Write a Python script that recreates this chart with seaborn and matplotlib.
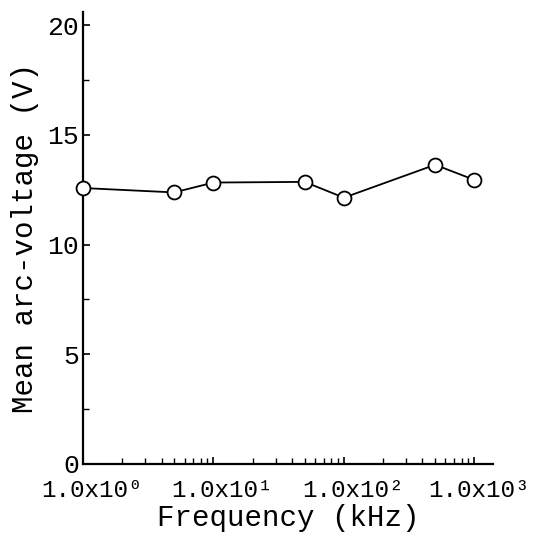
import matplotlib
matplotlib.use("Agg")
import matplotlib.pyplot as plt
import matplotlib.ticker as mticker
from matplotlib.transforms import ScaledTranslation
import seaborn as sns
import pandas as pd

freq_khz = [1.0, 5.0, 10.0, 50.0, 100.0, 500.0, 1000.0]
mean_voltage = [12.58, 12.38, 12.83, 12.86, 12.14, 13.64, 12.95]
x_tick_values = [1.0, 10.0, 100.0, 1000.0]
x_tick_labels = ["1.0x10\u2070", "1.0x10\u00b9", "1.0x10\u00b2", "1.0x10\u00b3"]
y_tick_values = [0, 5, 10, 15, 20]

sns.set_style("ticks")
plt.rcParams["font.family"] = ["Liberation Mono", "DejaVu Sans Mono"]

df = pd.DataFrame({"freq": freq_khz, "volt": mean_voltage})

fig = plt.figure(figsize=(5.34, 5.5), dpi=100)
ax = fig.add_axes([0.1554, 0.1564, 0.923 - 0.1554, 0.978 - 0.1564])

sns.lineplot(data=df, x="freq", y="volt", ax=ax, color="black", linewidth=1.3,
             marker="o", markersize=10, markerfacecolor="white",
             markeredgecolor="black", markeredgewidth=1.3, clip_on=False, zorder=5)

ax.set_xscale("log")
ax.set_xlim(1.0, 1386)
ax.set_ylim(0, 20.6)

ax.set_xticks(x_tick_values)
ax.set_xticklabels(x_tick_labels)
ax.xaxis.set_minor_locator(mticker.LogLocator(base=10, subs=range(2, 10)))
ax.xaxis.set_minor_formatter(mticker.NullFormatter())
ax.set_yticks(y_tick_values)
ax.set_yticklabels([str(v) for v in y_tick_values])
ax.yaxis.set_minor_locator(mticker.MultipleLocator(2.5))

ax.tick_params(axis="both", which="major", direction="in", length=5, width=1.2,
               color="black", labelcolor="black")
ax.tick_params(axis="x", which="major", labelsize=17.5, pad=11)
ax.tick_params(axis="y", which="major", labelsize=19, pad=3)
ax.tick_params(axis="both", which="minor", direction="in", length=4, width=1.0,
               color="black")

xlabels = ax.get_xticklabels()
for i, lab in enumerate(xlabels):
    dx = 9 if i < len(xlabels) - 1 else 5
    lab.set_transform(lab.get_transform() + ScaledTranslation(dx / 100, 0, fig.dpi_scale_trans))

for side in ["top", "right"]:
    ax.spines[side].set_visible(False)
for side in ["left", "bottom"]:
    ax.spines[side].set_linewidth(1.6)
    ax.spines[side].set_color("black")

ax.set_xlabel("Frequency (kHz)", fontsize=21, labelpad=1, color="black")
ax.set_ylabel("Mean arc-voltage (V)", fontsize=21, labelpad=6, color="black")

fig.savefig("out.png", dpi=100)
